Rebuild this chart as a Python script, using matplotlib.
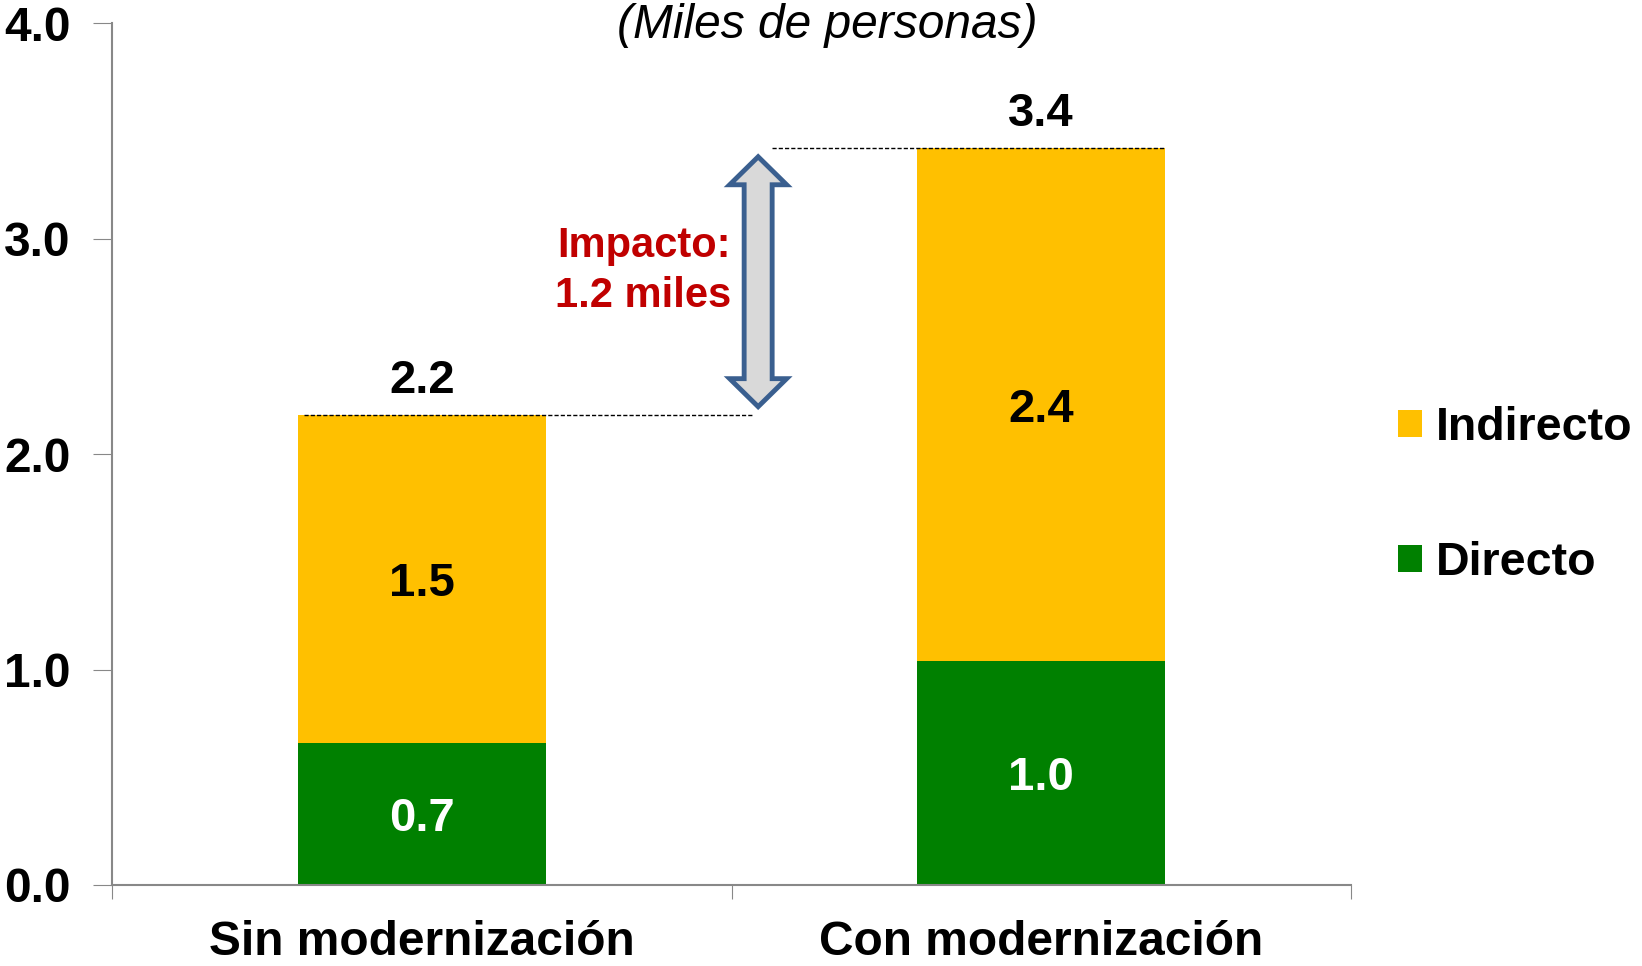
import matplotlib.pyplot as plt
import matplotlib.patches as mpatches
import numpy as np

plt.rcParams['font.family'] = ['Liberation Sans', 'DejaVu Sans']

categorias = ['Sin modernización', 'Con modernización']
directo = [0.66, 1.04]
indirecto = [1.52, 2.38]
etiq_directo = ['0.7', '1.0']
etiq_indirecto = ['1.5', '2.4']
etiq_total = ['2.2', '3.4']
impacto = 'Impacto:\n1.2 miles'

verde = '#008000'
amarillo = '#FFC000'
fs = 34.5

fig = plt.figure(figsize=(16.42, 9.66), dpi=100)
ax = fig.add_axes([0.0682, 0.0839, 0.7546, 0.8921])

x = np.arange(len(categorias))
total = np.array(directo) + np.array(indirecto)
ax.bar(x, directo, width=0.4, color=verde, label='Directo')
ax.bar(x, indirecto, width=0.4, bottom=directo, color=amarillo, label='Indirecto')

for i in range(len(x)):
    ax.text(x[i], directo[i] / 2 - 0.025, etiq_directo[i], ha='center', va='center',
            color='white', fontsize=34, fontweight='bold')
    ax.text(x[i], directo[i] + indirecto[i] / 2 - 0.025, etiq_indirecto[i], ha='center', va='center',
            color='black', fontsize=34, fontweight='bold')
    ax.text(x[i], total[i] + 0.16, etiq_total[i], ha='center', va='center',
            color='black', fontsize=34, fontweight='bold')

# lineas punteadas al nivel de los totales
ax.plot([-0.19, 0.533], [total[0], total[0]], color='black', lw=1, ls=(0, (3, 1.5)))
ax.plot([0.565, 1.2], [total[1], total[1]], color='black', lw=1, ls=(0, (3, 1.5)))

# flecha doble
ax_x = 0.543
y_lo = total[0] + 0.04
y_hi = total[1] - 0.04
sw = 0.0226
hw = 0.046
hl = 0.13
pts = [(ax_x, y_hi), (ax_x + hw, y_hi - hl), (ax_x + sw, y_hi - hl),
       (ax_x + sw, y_lo + hl), (ax_x + hw, y_lo + hl), (ax_x, y_lo),
       (ax_x - hw, y_lo + hl), (ax_x - sw, y_lo + hl), (ax_x - sw, y_hi - hl),
       (ax_x - hw, y_hi - hl)]
ax.add_patch(mpatches.Polygon(pts, closed=True, facecolor='#D9D9D9',
                              edgecolor='#3A5F8F', lw=3.5, joinstyle='miter'))

ax.text(0.499, 2.85, impacto, ha='right', va='center', color='#C00000',
        fontsize=30, fontweight='bold', linespacing=1.3)

ax.text(0.655, 3.99, '(Miles de personas)', ha='center', va='center',
        fontsize=fs, fontstyle='italic')

ax.set_xlim(-0.5, 1.5)
ax.set_ylim(0, 4)
ax.set_yticks([0, 1, 2, 3, 4])
ax.set_yticklabels(['0.0', '1.0', '2.0', '3.0', '4.0'], fontsize=fs, fontweight='bold')
ax.set_xticks([-0.5, 0.5, 1.5])
ax.set_xticklabels([])
ax.set_xticks(x, minor=True)
ax.set_xticklabels(categorias, minor=True, fontsize=fs, fontweight='bold')
ax.tick_params(axis='x', which='minor', length=0, pad=25)
ax.tick_params(axis='x', which='major', length=10, color='#888888', direction='out')
ax.tick_params(axis='y', length=14, color='#888888', direction='out', pad=16)

for s in ['top', 'right']:
    ax.spines[s].set_visible(False)
for s in ['left', 'bottom']:
    ax.spines[s].set_color('#888888')
    ax.spines[s].set_linewidth(1.5)

h, l = ax.get_legend_handles_labels()
leg = fig.legend(h[::-1], l[::-1], loc='center left', bbox_to_anchor=(0.826, 0.487),
                 frameon=False, prop={'weight': 'bold', 'size': 33.5},
                 handlelength=0.52, handleheight=0.52, handletextpad=0.3,
                 labelspacing=1.95)

fig.savefig('out.png', dpi=100)
